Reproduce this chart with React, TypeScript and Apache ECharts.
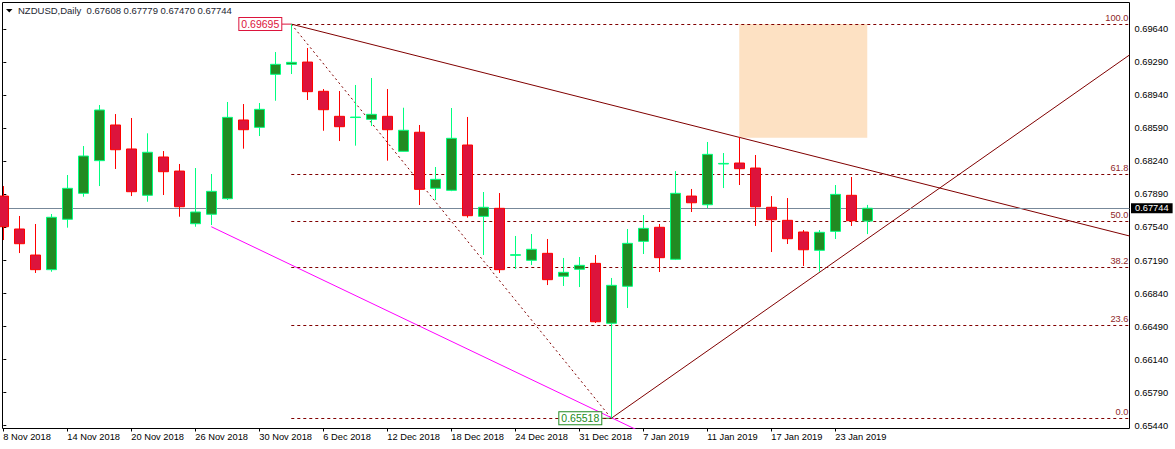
import React, { useEffect, useRef } from "react";
import * as echarts from "echarts";

const dates = ["8 Nov 2018","9 Nov 2018","12 Nov 2018","13 Nov 2018","14 Nov 2018","15 Nov 2018","16 Nov 2018","19 Nov 2018","20 Nov 2018","21 Nov 2018","22 Nov 2018","23 Nov 2018","26 Nov 2018","27 Nov 2018","28 Nov 2018","29 Nov 2018","30 Nov 2018","3 Dec 2018","4 Dec 2018","5 Dec 2018","6 Dec 2018","7 Dec 2018","10 Dec 2018","11 Dec 2018","12 Dec 2018","13 Dec 2018","14 Dec 2018","17 Dec 2018","18 Dec 2018","19 Dec 2018","20 Dec 2018","21 Dec 2018","24 Dec 2018","26 Dec 2018","27 Dec 2018","28 Dec 2018","31 Dec 2018","2 Jan 2019","3 Jan 2019","4 Jan 2019","7 Jan 2019","8 Jan 2019","9 Jan 2019","10 Jan 2019","11 Jan 2019","14 Jan 2019","15 Jan 2019","16 Jan 2019","17 Jan 2019","18 Jan 2019","21 Jan 2019","22 Jan 2019","23 Jan 2019","24 Jan 2019","25 Jan 2019"];
const opens = [.67873,.67524,.67248,.67093,.67627,.67902,.68248,.68626,.68372,.67881,.68287,.68138,.6758,.6768,.67845,.68679,.68601,.69163,.69269,.69293,.68983,.68718,.68705,.68686,.68718,.68347,.68549,.67955,.67934,.68414,.67658,.67743,.67245,.67192,.67266,.67023,.67097,.6716,.66525,.66917,.67393,.67542,.67203,.67873,.67781,.68213,.68223,.6817,.67754,.67616,.67492,.67298,.67499,.67881,.67608];
const closes = [.67548,.67368,.67093,.67648,.67955,.68297,.68785,.68364,.67919,.68337,.68131,.6776,.67704,.67923,.68707,.68576,.68792,.69269,.6929,.68979,.68788,.68608,.6871,.68739,.68576,.6857,.67944,.6805,.68485,.67665,.67754,.67093,.67252,.67309,.66987,.67065,.67139,.66541,.66927,.67372,.67531,.6722,.67902,.67802,.68315,.68219,.68163,.6776,.67622,.67421,.67304,.67489,.67891,.67612,.67744];
const lows = [.67407,.67269,.67058,.67071,.67538,.67866,.67979,.6816,.67873,.67813,.67884,.67654,.67548,.67566,.67831,.68375,.68509,.68883,.69166,.68891,.68565,.68456,.68407,.68615,.68248,.68345,.67778,.67831,.67925,.67644,.67248,.67058,.671,.67142,.6693,.6692,.66909,.66528,.65518,.66687,.67259,.67068,.67195,.67704,.67746,.67958,.6799,.67556,.6728,.67365,.67132,.67071,.67418,.67556,.6747];
const highs = [.67979,.67662,.67577,.67683,.68096,.68403,.68838,.68742,.687,.68538,.6835,.68213,.6817,.68107,.6887,.68848,.68859,.69399,.69695,.69442,.69007,.68986,.6905,.69124,.69007,.68809,.68626,.68181,.68806,.68711,.67916,.67905,.6745,.67471,.67418,.67217,.67227,.67248,.67005,.67524,.67672,.67577,.68138,.67948,.68446,.68329,.68499,.68308,.67873,.67852,.67513,.67513,.6799,.68075,.67779];

const xTickIndexes = [0, 4, 8, 12, 16, 20, 24, 28, 32, 36, 40, 44, 48, 52];
const yTicks = [0.6544, 0.6579, 0.6614, 0.6649, 0.6684, 0.6719, 0.6754, 0.6789, 0.6824, 0.6859, 0.6894, 0.6929, 0.6964];

const fibLevels = ["0.0", "23.6", "38.2", "50.0", "61.8", "100.0"];
const fibPrices = [0.65518, 0.66504, 0.67114, 0.676065, 0.68099, 0.69695];

const swingHigh = [18, 0.69695];
const swingLow = [38, 0.65518];
const trendDown = [swingHigh, [70.39, 0.6745]];
const trendUp = [swingLow, [70.39, 0.69368]];
const magentaLine = [[13, 0.67548], [40, 0.65363]];
const boxFrom = [46, 0.69695];
const boxTo = [54, 0.68491];
const lastPrice = 0.67744;

const xMin = -0.05;
const xMax = 70.39;
const yMin = 0.6541;
const yMax = 0.69924;

const FONT = "Liberation Sans";
const MAROON = "#800000";

export default function App() {
  const ref = useRef<HTMLDivElement>(null);
  useEffect(() => {
    if (!ref.current) return;
    const chart = echarts.init(ref.current, undefined, { renderer: "svg" });
    const tag = (coord: number[], text: string, color: string) => ({
      coord,
      symbol: "rect",
      symbolSize: 0,
      label: {
        show: true,
        formatter: text,
        position: "left",
        distance: 10,
        color,
        fontFamily: FONT,
        fontSize: 10.5,
        backgroundColor: "#fff",
        borderColor: color,
        borderWidth: 1,
        padding: [1, 2, 0, 2],
      },
    });
    const plain = (data: number[][], color: string, dash: any, z: number) => ({
      type: "line",
      data,
      z,
      silent: true,
      showSymbol: false,
      symbol: "none",
      lineStyle: { color, width: 1, type: dash },
    });
    chart.setOption({
      animation: false,
      backgroundColor: "#fff",
      title: {
        text: "NZDUSD,Daily  0.67608 0.67779 0.67470 0.67744",
        left: 18,
        top: 5,
        padding: 0,
        textStyle: { fontFamily: FONT, fontSize: 9.5, fontWeight: "normal", color: "#1c2530" },
      },
      graphic: [
        { type: "polygon", shape: { points: [[6, 9], [12.5, 9], [9.25, 12.5]] }, style: { fill: "#000" } },
      ],
      grid: { left: 2.5, top: 2.5, width: 1127, height: 426, show: true, borderColor: "#000", borderWidth: 1, backgroundColor: "#fff" },
      xAxis: {
        type: "value",
        min: xMin,
        max: xMax,
        splitLine: { show: false },
        axisLine: { show: false },
        axisTick: { show: true, length: 3, customValues: xTickIndexes, lineStyle: { color: "#000" } },
        axisLabel: {
          show: true,
          customValues: xTickIndexes,
          formatter: (v: number) => dates[v] ?? "",
          align: "left",
          margin: 4,
          color: "#000",
          fontFamily: FONT,
          fontSize: 9.3,
        },
      },
      yAxis: {
        type: "value",
        position: "right",
        min: yMin,
        max: yMax,
        scale: true,
        splitLine: { show: false },
        axisLine: { show: false },
        axisTick: { show: true, length: 3, customValues: yTicks, lineStyle: { color: "#000" } },
        axisLabel: {
          show: true,
          customValues: yTicks,
          formatter: (v: number) => v.toFixed(5),
          margin: 5,
          color: "#000",
          fontFamily: FONT,
          fontSize: 9.3,
        },
      },
      series: [
        {
          type: "line",
          data: [],
          z: 1,
          silent: true,
          markArea: {
            silent: true,
            itemStyle: { color: "#FDE1C3", opacity: 1 },
            data: [[{ coord: boxFrom }, { coord: boxTo }]],
          },
        },
        {
          type: "line",
          data: [],
          z: 3,
          silent: true,
          markLine: {
            silent: true,
            symbol: "none",
            animation: false,
            precision: 6,
            lineStyle: { color: MAROON, width: 1, type: [3, 3] },
            label: {
              show: true,
              position: "insideEndTop",
              distance: [1, 2],
              color: "#8f1f2a",
              fontFamily: FONT,
              fontSize: 9.3,
            },
            data: fibLevels.map((lvl, i) => [
              { coord: [18, fibPrices[i]], label: { formatter: lvl } },
              { coord: [xMax, fibPrices[i]] },
            ]),
          },
        },
        {
          type: "line",
          data: [],
          z: 3,
          silent: true,
          markLine: {
            silent: true,
            symbol: "none",
            animation: false,
            precision: 6,
            lineStyle: { color: "#778899", width: 1, type: "solid" },
            label: {
              show: true,
              position: "end",
              distance: 1.5,
              formatter: lastPrice.toFixed(5),
              color: "#fff",
              backgroundColor: "#000",
              fontFamily: FONT,
              fontSize: 9.3,
              padding: [1, 4, 0, 4],
            },
            data: [{ yAxis: lastPrice }],
          },
        },
        plain([swingHigh, swingLow], MAROON, [2, 3], 3),
        plain(trendDown, MAROON, "solid", 3),
        plain(trendUp, MAROON, "solid", 3),
        plain(magentaLine, "#FF00FF", "solid", 3),
        plain([[17.4, swingHigh[1]], swingHigh], "#DC143C", "solid", 4),
        plain([[37.4, swingLow[1]], swingLow], "#228B22", "solid", 4),
        {
          type: "candlestick",
          z: 5,
          silent: true,
          barWidth: 10,
          data: dates.map((_, i) => [i, opens[i], closes[i], lows[i], highs[i]]),
          itemStyle: {
            color: "#228B22",
            color0: "#DC143C",
            borderColor: "#00FF7F",
            borderColor0: "#FF0000",
            borderWidth: 1,
          },
        },
        {
          type: "scatter",
          data: [],
          z: 6,
          silent: true,
          markPoint: {
            silent: true,
            data: [
              tag(swingHigh, "0.69695", "#DC143C"),
              tag(swingLow, "0.65518", "#228B22"),
            ],
          },
        },
      ],
    });
    return () => chart.dispose();
  }, []);
  return <div ref={ref} style={{ position: "fixed", left: 0, top: 0, width: 1175, height: 449 }} />;
}
